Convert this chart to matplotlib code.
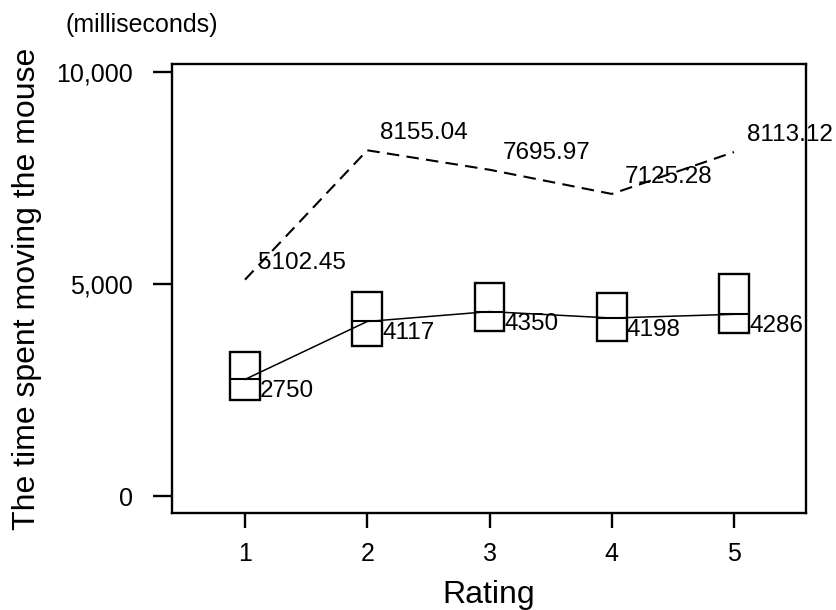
import matplotlib
matplotlib.use("Agg")
import matplotlib.pyplot as plt
from matplotlib.ticker import FuncFormatter

plt.rcParams['font.family'] = ['Liberation Sans', 'DejaVu Sans']

ratings = [1, 2, 3, 4, 5]
# mean time (solid line) and its box limits
mean_time = [2750, 4117, 4350, 4198, 4286]
box_low = [2264, 3538, 3892, 3656, 3844]
box_high = [3396, 4811, 5024, 4788, 5236]
# second series (dashed line)
dashed_time = [5102.45, 8155.04, 7695.97, 7125.28, 8113.12]
dashed_labels = ["5102.45", "8155.04", "7695.97", "7125.28", "8113.12"]

fig = plt.figure(figsize=(8.37, 6.10), dpi=100)
ax = fig.add_axes([0.2055, 0.159, 0.7575, 0.736])

bw = 0.245
ax.bar(ratings, [h - l for h, l in zip(box_high, box_low)], bottom=box_low,
       width=bw, fill=False, edgecolor='black', linewidth=1.7)
ax.hlines(mean_time, [r - bw / 2 for r in ratings], [r + bw / 2 for r in ratings],
          color='black', linewidth=1.5)
ax.plot(ratings, mean_time, color='black', linewidth=1.1)

line, = ax.plot(ratings, dashed_time, color='black', linewidth=1.5)
line.set_dashes((6, 3.5))

for r, v in zip(ratings, mean_time):
    ax.annotate(str(v), (r, v), xytext=(15, -1), textcoords='offset pixels',
                ha='left', va='top', fontsize=17.5)
for r, v, s in zip(ratings, dashed_time, dashed_labels):
    ax.annotate(s, (r, v), xytext=(13, 6), textcoords='offset pixels',
                ha='left', va='bottom', fontsize=17.5)

ax.set_xlim(0.403, 5.589)
ax.set_ylim(-401, 10189)
ax.set_xticks(ratings)
ax.set_yticks([0, 5000, 10000])
ax.yaxis.set_major_formatter(FuncFormatter(lambda v, p: f"{int(v):,}"))

for s in ax.spines.values():
    s.set_linewidth(1.7)
ax.tick_params(axis='y', length=14, width=1.7, pad=14, labelsize=18)
ax.tick_params(axis='x', length=11, width=1.7, pad=10, labelsize=18)

ax.set_xlabel("Rating", fontsize=23, labelpad=10)
ax.set_ylabel("The time spent moving the mouse", fontsize=23, labelpad=10)
fig.text(142 / 837, 1 - 25 / 610, "(milliseconds)", fontsize=18,
         ha='center', va='center')

fig.savefig("out.png", dpi=100)
